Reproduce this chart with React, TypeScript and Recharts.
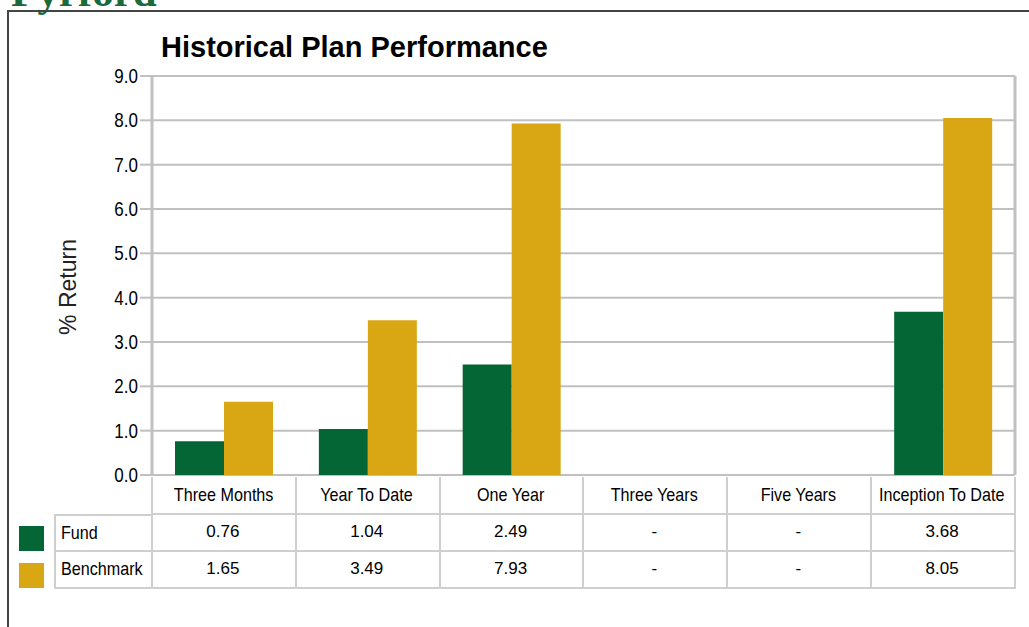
import React from 'react';
import { BarChart, Bar, XAxis, YAxis, CartesianGrid } from 'recharts';

const periods = ['Three Months', 'Year To Date', 'One Year', 'Three Years', 'Five Years', 'Inception To Date'];
const fundReturns: (number | null)[] = [0.76, 1.04, 2.49, null, null, 3.68];
const benchmarkReturns: (number | null)[] = [1.65, 3.49, 7.93, null, null, 8.05];
const yTicks = [0, 1, 2, 3, 4, 5, 6, 7, 8, 9];

const FUND_COLOR = '#036634';
const BENCH_COLOR = '#d9a713';
const GRID = '#c0c0c0';
const TABLE_LINE = '#cfcfcf';
const SANS = "'Liberation Sans', Arial, sans-serif";
// no narrow face installed, so squeeze the regular one horizontally
const NARROW_SCALE = 0.85;

const data = periods.map((period, i) => ({
    period,
    fund: fundReturns[i],
    benchmark: benchmarkReturns[i],
}));

// plot area bounds, shared by the chart margins and the table below it
const PLOT_LEFT = 152;
const PLOT_RIGHT = 1015;
const PLOT_BOTTOM = 475;
const CHART_H = 495;
const COL_W = (PLOT_RIGHT - PLOT_LEFT) / periods.length;
const ROW_H = 37;
const TABLE_TOP = 477;

const fmt = (v: number | null) => (v == null ? '-' : v.toFixed(2));

const cellBorder = `2px solid ${TABLE_LINE}`;

const NarrowTick = (props: any) => {
    const { x, y, payload } = props;
    return (
        <text
            x={0}
            y={0}
            transform={`translate(${x}, ${y}) scale(${NARROW_SCALE}, 1)`}
            textAnchor="end"
            dominantBaseline="central"
            fill="#000"
            fontSize={20}
            fontFamily={SANS}
        >
            {Number(payload.value).toFixed(1)}
        </text>
    );
};

const Cell: React.FC<{ x: number; y: number; w: number; text: string; narrow?: boolean; align?: 'center' | 'left'; top?: boolean; left?: boolean }> = ({ x, y, w, text, narrow = false, align = 'center', top = true, left = true }) => (
    <div
        style={{
            position: 'absolute',
            left: x,
            top: y,
            width: w,
            height: ROW_H + 1,
            boxSizing: 'border-box',
            borderTop: top ? cellBorder : 'none',
            borderLeft: left ? cellBorder : 'none',
            borderRight: cellBorder,
            borderBottom: cellBorder,
            fontFamily: SANS,
            fontSize: narrow ? 19 : 17,
            color: '#000',
            display: 'flex',
            alignItems: 'center',
            justifyContent: align === 'center' ? 'center' : 'flex-start',
            paddingLeft: align === 'left' ? 5 : 0,
            whiteSpace: 'nowrap',
        }}
    >
        <span
            style={{
                display: 'inline-block',
                transform: narrow ? `scaleX(${NARROW_SCALE})` : undefined,
                transformOrigin: align === 'left' ? 'left center' : 'center center',
            }}
        >
            {text}
        </span>
    </div>
);

export default function App() {
    const rows = [
        { name: 'Fund', color: FUND_COLOR, values: fundReturns },
        { name: 'Benchmark', color: BENCH_COLOR, values: benchmarkReturns },
    ];

    return (
        <div style={{ position: 'absolute', left: 0, top: 0, width: 1029, height: 627, overflow: 'hidden', background: '#fff' }}>
            {/* brand text, clipped at the top */}
            <div
                style={{
                    position: 'absolute',
                    left: 11,
                    top: -30,
                    fontFamily: "'Liberation Serif', 'Times New Roman', serif",
                    fontWeight: 'bold',
                    fontSize: 43,
                    lineHeight: '43px',
                    color: '#1a6b38',
                }}
            >
                Pyrford
            </div>
            {/* outer frame */}
            <div style={{ position: 'absolute', left: 7, top: 10, width: 1100, height: 700, borderTop: '2px solid #444', borderLeft: '2px solid #444' }} />

            <div
                style={{
                    position: 'absolute',
                    left: 161,
                    top: 33,
                    fontFamily: SANS,
                    fontWeight: 'bold',
                    fontSize: 29,
                    lineHeight: '29px',
                    color: '#000',
                    whiteSpace: 'nowrap',
                }}
            >
                Historical Plan Performance
            </div>

            <div
                style={{
                    position: 'absolute',
                    left: 68,
                    top: 287,
                    transform: 'translate(-50%, -50%) rotate(-90deg)',
                    fontFamily: SANS,
                    fontSize: 23,
                    color: '#222',
                    whiteSpace: 'nowrap',
                }}
            >
                % Return
            </div>

            <div style={{ position: 'absolute', left: 0, top: 0 }}>
                <BarChart
                    width={1029}
                    height={CHART_H}
                    data={data}
                    margin={{ top: 76, right: 0, left: 0, bottom: CHART_H - PLOT_BOTTOM }}
                    barGap={0}
                    barCategoryGap="16%"
                >
                    <CartesianGrid yAxisId="left" vertical={false} stroke={GRID} strokeWidth={2} />
                    <XAxis dataKey="period" hide />
                    <YAxis
                        yAxisId="left"
                        width={PLOT_LEFT}
                        domain={[0, 9]}
                        ticks={yTicks}
                        interval={0}
                        tickSize={12}
                        tickMargin={2}
                        tickLine={{ stroke: GRID, strokeWidth: 2 }}
                        axisLine={{ stroke: GRID, strokeWidth: 3 }}
                        tick={<NarrowTick />}
                    />
                    <YAxis
                        yAxisId="right"
                        orientation="right"
                        width={1029 - PLOT_RIGHT}
                        domain={[0, 9]}
                        tick={false}
                        tickLine={false}
                        axisLine={{ stroke: GRID, strokeWidth: 3 }}
                    />
                    <Bar yAxisId="left" dataKey="fund" name="Fund" fill={FUND_COLOR} isAnimationActive={false} />
                    <Bar yAxisId="left" dataKey="benchmark" name="Benchmark" fill={BENCH_COLOR} isAnimationActive={false} />
                </BarChart>
            </div>

            {/* data table under the plot */}
            {periods.map((p, i) => (
                <Cell key={p} x={PLOT_LEFT + i * COL_W - 1} y={TABLE_TOP} w={COL_W + 2} text={p} narrow top={false} left={i === 0} />
            ))}
            {rows.map((row, r) => (
                <React.Fragment key={row.name}>
                    <div
                        style={{
                            position: 'absolute',
                            left: 19,
                            top: TABLE_TOP + ROW_H * (r + 1) + 12,
                            width: 25,
                            height: 25,
                            background: row.color,
                        }}
                    />
                    <Cell x={54} y={TABLE_TOP + ROW_H * (r + 1)} w={PLOT_LEFT - 54 + 1} text={row.name} narrow align="left" top={r === 0} />
                    {row.values.map((v, i) => (
                        <Cell
                            key={periods[i]}
                            x={PLOT_LEFT + i * COL_W - 1}
                            y={TABLE_TOP + ROW_H * (r + 1)}
                            w={COL_W + 2}
                            text={fmt(v)}
                            top={false}
                            left={false}
                        />
                    ))}
                </React.Fragment>
            ))}
        </div>
    );
}
